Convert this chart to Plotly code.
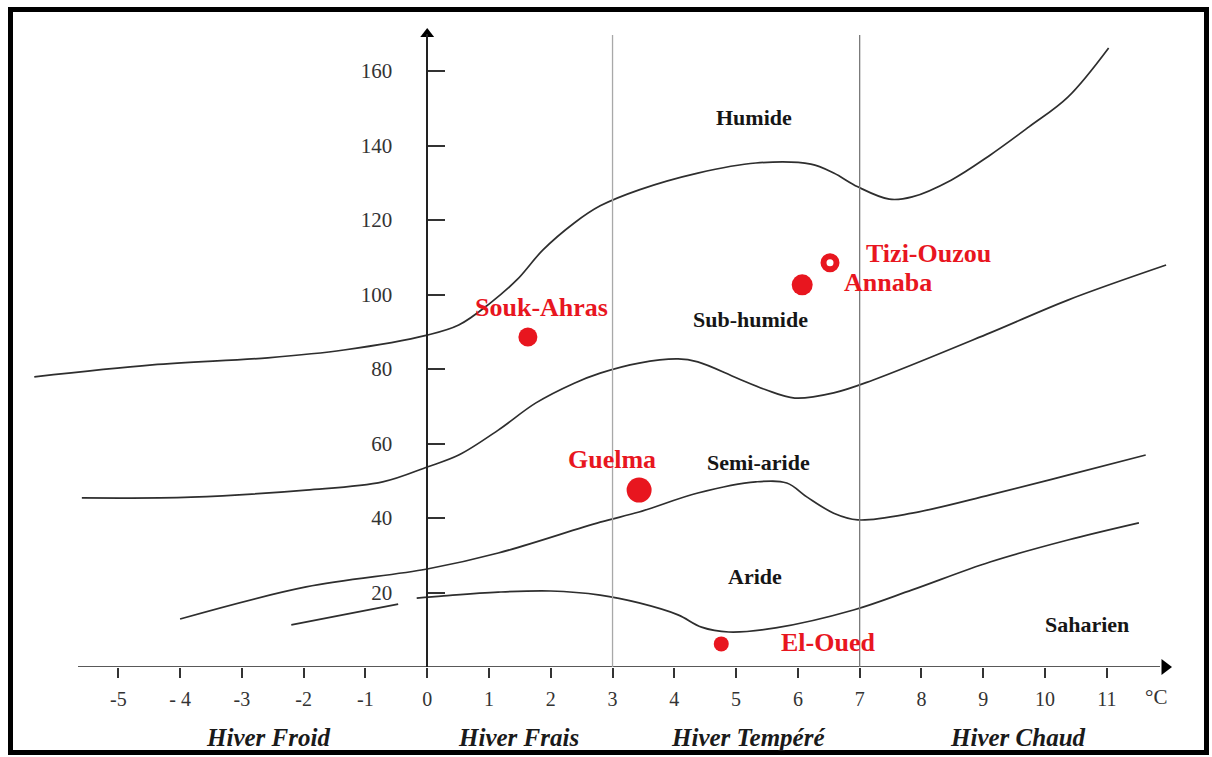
import plotly.graph_objects as go

# ---------------- data ----------------
x_ticks = [-5, -4, -3, -2, -1, 0, 1, 2, 3, 4, 5, 6, 7, 8, 9, 10, 11]
x_tick_text = ["-5", "- 4", "-3", "-2", "-1", "0", "1", "2", "3", "4", "5", "6", "7", "8", "9", "10", "11"]
y_ticks = [20, 40, 60, 80, 100, 120, 140, 160]

# Humide / Sub-humide boundary
hum_m = [-6.36, -4.45, -2.58, -1.35, 0.00, 0.51, 1.02, 1.45, 1.87, 2.38, 2.80, 3.43, 4.38, 5.32,
         6.21, 6.58, 6.97, 7.48, 7.85, 8.48, 9.11, 9.74, 10.37, 11.03]
hum_q = [77.9, 81.1, 83.0, 85.1, 89.1, 91.8, 97.7, 103.9, 111.9, 119.2, 123.8, 128.1, 132.6, 135.3,
         135.0, 132.6, 128.9, 125.6, 126.2, 130.7, 137.4, 145.0, 153.0, 166.2]
# Sub-humide / Semi-aride boundary
sub_m = [-5.59, -3.82, -1.96, -0.72, 0.00, 0.51, 1.15, 1.76, 2.38, 2.80, 3.43, 4.06, 4.38, 5.01,
         5.47, 5.95, 6.58, 7.21, 9.11, 10.37, 11.96]
sub_q = [45.4, 45.6, 47.5, 49.7, 53.7, 56.9, 63.6, 70.9, 76.2, 78.9, 81.6, 82.7, 81.9, 77.6,
         74.5, 72.2, 73.6, 77.0, 89.7, 98.5, 107.9]
# Semi-aride / Aride boundary
semi_m = [-4.00, -1.96, 0.00, 1.15, 2.80, 3.43, 4.38, 5.32, 5.82, 6.15, 6.58, 6.97, 7.85, 9.11, 10.37, 11.63]
semi_q = [12.9, 21.5, 26.3, 30.6, 38.9, 41.6, 46.7, 49.7, 49.4, 45.6, 41.3, 39.5, 41.3, 46.2, 51.5, 56.9]
# Aride / Saharien boundary (two pieces)
ari1_m = [-2.20, -0.47]
ari1_q = [11.3, 16.9]
ari2_m = [-0.17, 0.27, 1.15, 2.00, 2.80, 3.43, 4.06, 4.44, 4.88, 5.64, 6.90, 7.85, 9.11, 10.37, 11.52]
ari2_q = [18.5, 19.1, 20.1, 20.4, 19.3, 17.2, 14.0, 10.7, 9.4, 10.5, 15.3, 20.7, 28.2, 34.1, 38.7]

stations = ["Souk-Ahras", "Tizi-Ouzou", "Annaba", "Guelma", "El-Oued"]
station_m = [1.63, 6.52, 6.07, 3.43, 4.76]
station_q = [88.6, 108.5, 102.6, 47.5, 6.2]

zones = ["Humide", "Sub-humide", "Semi-aride", "Aride", "Saharien"]
winters = ["Hiver Froid", "Hiver Frais", "Hiver Tempéré", "Hiver Chaud"]
winter_bounds = [3, 7]

# ---------------- layout / styling ----------------
W, H = 1212, 757
PX0, PXU = 427.2, 61.78      # pixel of m=0, pixels per degree
PY0, PYU = 667.0, 3.725      # pixel of Q=0, pixels per unit Q
ML, MR, MT, MB = 25, 32, 34, int(H - PY0)

x_range = [(ML - PX0) / PXU, (W - MR - PX0) / PXU]
y_range = [0, (PY0 - MT) / PYU]

def xp(px):   # pixel -> paper x
    return (px - ML) / (W - ML - MR)

def yp(py):   # pixel -> paper y
    return (PY0 - py) / (PY0 - MT)

RED = "#e8161f"
CURVE = "#2e2e2e"
SERIF = "Liberation Serif, Times New Roman, serif"

fig = go.Figure()

for mm, qq in [(hum_m, hum_q), (sub_m, sub_q), (semi_m, semi_q), (ari1_m, ari1_q), (ari2_m, ari2_q)]:
    fig.add_trace(go.Scatter(x=mm, y=qq, mode="lines",
                             line=dict(color=CURVE, width=1.7, shape="spline", smoothing=1.0),
                             hoverinfo="skip", showlegend=False))

# stations
sizes = [19, 13, 21, 25, 15]
symbols = ["circle", "circle-open", "circle", "circle", "circle"]
lw = [0, 6, 0, 0, 0]
fig.add_trace(go.Scatter(x=station_m, y=station_q, mode="markers",
                         marker=dict(color=RED, size=sizes, symbol=symbols, opacity=1,
                                     line=dict(color=RED, width=lw)),
                         showlegend=False, hoverinfo="skip"))

# axis arrows
fig.add_trace(go.Scatter(x=[0], y=[y_range[1]], mode="markers", cliponaxis=False,
                         marker=dict(symbol="triangle-up", size=12, color="black", opacity=1),
                         showlegend=False, hoverinfo="skip"))
fig.add_trace(go.Scatter(x=[(1165 - PX0) / PXU], y=[0], mode="markers", cliponaxis=False,
                         marker=dict(symbol="triangle-right", size=14, color="black", opacity=1),
                         showlegend=False, hoverinfo="skip"))

shapes = []
# x axis line
shapes.append(dict(type="line", xref="x", yref="y", x0=(78 - PX0) / PXU, x1=(1160 - PX0) / PXU,
                   y0=0, y1=0, line=dict(color="#222", width=1.6)))
# winter boundaries
for b, c in zip(winter_bounds, ["#a8a8a8", "#7a7a7a"]):
    shapes.append(dict(type="line", xref="x", yref="y", x0=b, x1=b, y0=0, y1=(PY0 - 35) / PYU,
                       line=dict(color=c, width=1.3)))
# frame
shapes.append(dict(type="rect", xref="paper", yref="paper",
                   x0=xp(10.5), x1=xp(1206.5), y0=yp(752.5), y1=yp(9.5),
                   line=dict(color="black", width=5), fillcolor="rgba(0,0,0,0)"))

annotations = []
# station labels
lab_x = [1.85, 8.12, 7.46, 2.99, 6.49]
lab_y = [96.4, 111.1, 103.1, 55.6, 6.7]
for name, lx, ly in zip(stations, lab_x, lab_y):
    annotations.append(dict(x=lx, y=ly, xref="x", yref="y", text="<b>%s</b>" % name, showarrow=False,
                            font=dict(family=SERIF, size=26, color=RED), xanchor="center", yanchor="middle"))
# zone labels
zone_x = [5.29, 5.24, 5.36, 5.30, 10.68]
zone_y = [147.6, 93.2, 55.0, 24.4, 11.3]
for name, zx, zy in zip(zones, zone_x, zone_y):
    annotations.append(dict(x=zx, y=zy, xref="x", yref="y", text="<b>%s</b>" % name, showarrow=False,
                            font=dict(family=SERIF, size=22, color="#161616"), xanchor="center", yanchor="middle"))
# winter labels
winter_x = [-2.58, 1.47, 5.19, 9.56]
for name, wx in zip(winters, winter_x):
    annotations.append(dict(x=wx, y=yp(737), xref="x", yref="paper", text="<b><i>%s</i></b>" % name,
                            showarrow=False, font=dict(family=SERIF, size=25, color="#1a1a1a"),
                            xanchor="center", yanchor="middle"))
# unit
annotations.append(dict(x=(1156 - PX0) / PXU, y=yp(697), xref="x", yref="paper", text="°C", showarrow=False,
                        font=dict(family=SERIF, size=21, color="#333"), xanchor="center", yanchor="middle"))

fig.update_layout(
    width=W, height=H,
    margin=dict(l=ML, r=MR, t=MT, b=MB, pad=0),
    paper_bgcolor="white", plot_bgcolor="white",
    shapes=shapes, annotations=annotations,
    xaxis=dict(range=x_range, showgrid=False, zeroline=False, showline=False,
               tickmode="array", tickvals=x_ticks, ticktext=x_tick_text,
               ticks="outside", ticklen=10, tickwidth=1.5, tickcolor="#333",
               ticklabelstandoff=4,
               tickfont=dict(family=SERIF, size=20, color="#333")),
    yaxis=dict(range=y_range, showgrid=False, zeroline=False, showline=True, linecolor="#222", linewidth=1.6,
               anchor="free", position=(0 - x_range[0]) / (x_range[1] - x_range[0]),
               tickmode="array", tickvals=y_ticks,
               ticks="inside", ticklen=17, tickwidth=1.5, tickcolor="#333",
               ticklabelstandoff=30,
               tickfont=dict(family=SERIF, size=21, color="#333")),
)

fig.write_html("out.html")
